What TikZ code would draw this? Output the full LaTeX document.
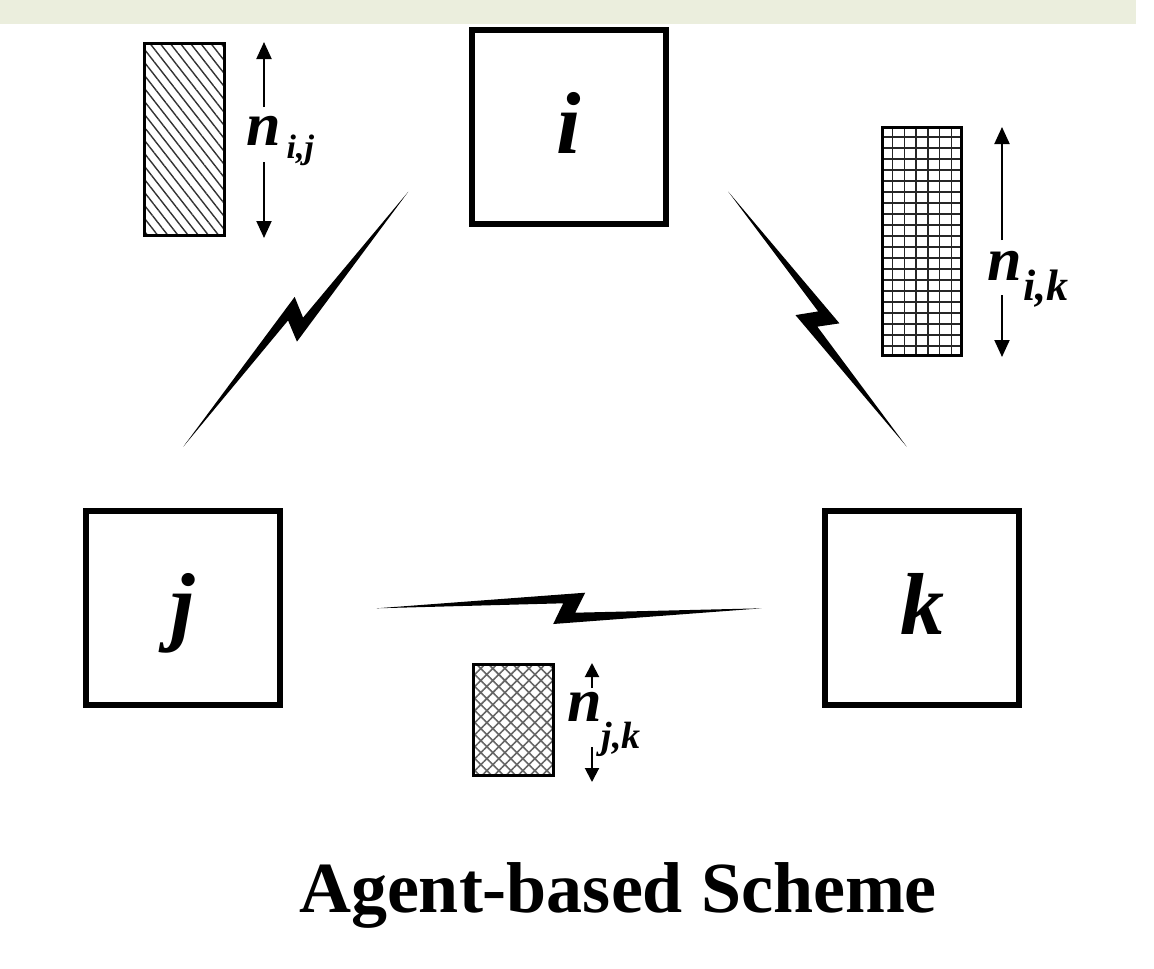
\documentclass[tikz,border=0pt]{standalone}
\usepackage{fontspec}
\setmainfont{Liberation Serif}
\usetikzlibrary{arrows.meta,patterns.meta}
\definecolor{bandcol}{HTML}{EBEEDD}
\definecolor{hatchcol}{HTML}{333333}
\definecolor{crosscol}{HTML}{666666}
\newcommand\nlab[4]{{\fontsize{62}{62}\selectfont\bfseries\itshape n\hspace{#4pt}\raisebox{-#3pt}{\fontsize{#2}{#2}\selectfont #1}}}
% lightning bolt in a local frame: axis along x from 0 to 2*#1
\newcommand\boltpath[1]{\fill[bolt] (0,0) -- (#1+16,15.6) -- (#1+6,-4.4) -- (2*#1,0) -- (#1-16,-15.7) -- (#1-6,5) -- cycle;}
\begin{document}
\begin{tikzpicture}[x=1pt,y=-1pt,
  agent/.style={draw, line width=6pt, minimum size=194pt, inner sep=0pt,
    text height=53pt, text depth=0pt,
    font=\fontsize{88}{88}\selectfont\bfseries\itshape},
  bar/.style={draw, line width=3pt, inner sep=0pt},
  dimarrow/.style={line width=2pt, -{Triangle[width=15pt,length=17pt]}},
  smallarrow/.style={line width=2pt, -{Triangle[width=14pt,length=14pt]}},
  gridline/.style={line width=1.4pt, draw=black!85},
  bolt/.style={fill=black},
  lbl/.style={inner sep=0pt, anchor=base west}]
\useasboundingbox (0,0) rectangle (1154,969);
\fill[bandcol] (0,0) rectangle (1136,24);

% agents
\node[agent] (i) at (569,127) {i};
\node[agent] (j) at (183,607.5) {j};
\node[agent] (k) at (922,608) {k};

% bar i-j (hatched)
\node[bar, minimum width=80pt, minimum height=192pt,
  pattern={Lines[angle=-52,distance=8pt,line width=1.4pt]}, pattern color=hatchcol] (bij) at (184.5,139.5) {};
% bar i-k (grid)
\foreach \c in {1,...,6} \draw[gridline] (881+\c*11.71,127) -- (881+\c*11.71,356);
\foreach \r in {1,...,20} \draw[gridline] (882,126+\r*11) -- (962,126+\r*11);
\node[bar, minimum width=79pt, minimum height=228pt] (bik) at (922,241.5) {};
% bar j-k (cross hatched)
\node[bar, minimum width=80pt, minimum height=111pt,
  pattern={Hatch[angle=45,distance=8.5pt,line width=1.6pt]}, pattern color=crosscol] (bjk) at (513.5,720) {};

% labels
\node[lbl] (lij) at (246,145) {\nlab{i,j}{34}{13}{6}};
\node[lbl] (lik) at (987,280) {\nlab{i,k}{44}{20}{2}};
\node[lbl] (ljk) at (567,721) {\nlab{j,k}{38}{27}{0}};

% dimension arrows
\coordinate (ij1) at (264,107); \coordinate (ij2) at (264,42);
\coordinate (ij3) at (264,162); \coordinate (ij4) at (264,238);
\draw[dimarrow] (ij1) -- (ij2);
\draw[dimarrow] (ij3) -- (ij4);
\coordinate (ik1) at (1002,240); \coordinate (ik2) at (1002,127);
\coordinate (ik3) at (1002,295); \coordinate (ik4) at (1002,357);
\draw[dimarrow] (ik1) -- (ik2);
\draw[dimarrow] (ik3) -- (ik4);
\coordinate (jk1) at (592,688); \coordinate (jk2) at (592,663);
\coordinate (jk3) at (592,747); \coordinate (jk4) at (592,782);
\draw[smallarrow] (jk1) -- (jk2);
\draw[smallarrow] (jk3) -- (jk4);

% lightning links (i-j, i-k, j-k)
\begin{scope}[shift={(183.3pt,-446.7pt)}, x={(0.6616pt,0.7498pt)}, y={(-0.7498pt,0.6616pt)}]
  \boltpath{170}
\end{scope}
\begin{scope}[shift={(728.3pt,-191.7pt)}, x={(0.5733pt,-0.8194pt)}, y={(0.8194pt,0.5733pt)}]
  \boltpath{155.6}
\end{scope}
\begin{scope}[shift={(376.7pt,-608.3pt)}, x={(1pt,0pt)}, y={(0pt,1pt)}]
  \boltpath{192.5}
\end{scope}

% title
\node[anchor=base, inner sep=0pt, font=\fontsize{72}{72}\selectfont\bfseries] (title) at (618,912) {Agent-based Scheme};
\end{tikzpicture}
\end{document}
